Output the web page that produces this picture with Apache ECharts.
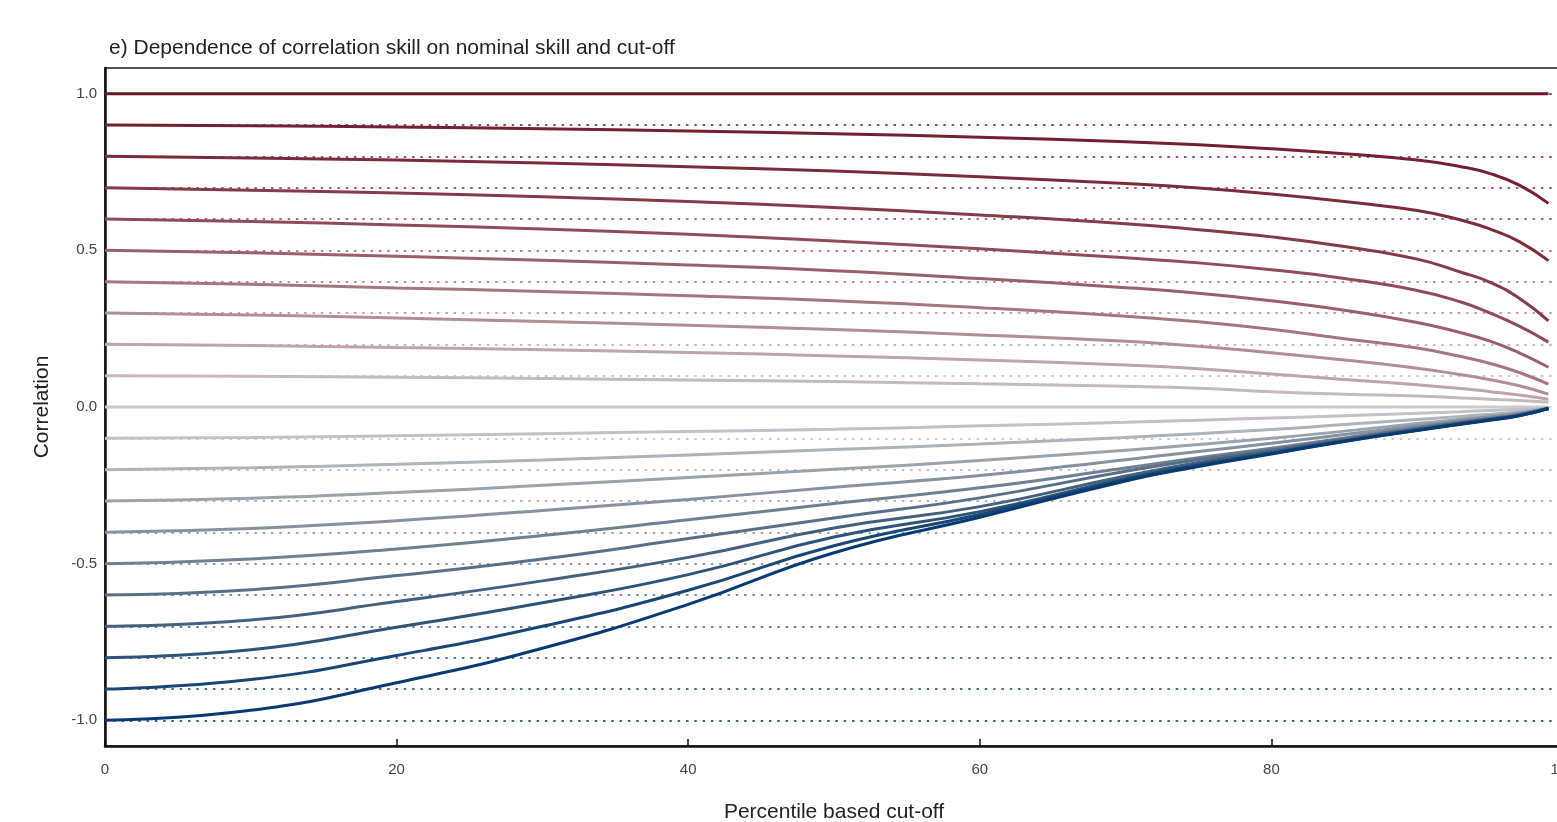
<!DOCTYPE html>
<html>
<head>
<meta charset="utf-8">
<script src="https://cdn.jsdelivr.net/npm/echarts@6/dist/echarts.min.js"></script>
<style>
html,body{margin:0;padding:0;background:#fff;}
#chart{width:1557px;height:822px;}
</style>
</head>
<body>
<div id="chart"></div>
<script>
// ---- data ----
const cutoffs = [0,10,20,30,40,50,60,70,75,80,85,90,93,95,97,99];
const nominal = [1.0,0.9,0.8,0.7,0.6,0.5,0.4,0.3,0.2,0.1,0.0,-0.1,-0.2,-0.3,-0.4,-0.5,-0.6,-0.7,-0.8,-0.9,-1.0];
const yTickValues = [-1.0,-0.5,0.0,0.5,1.0];

const r_p10 = [1,1,1,1,1,1,1,1,1,1,1,1,1,1,1,1];
const r_p09 = [0.9,0.898,0.894,0.888,0.881,0.872,0.861,0.847,0.837,0.824,0.808,0.788,0.767,0.745,0.708,0.65];
const r_p08 = [0.8,0.795,0.788,0.779,0.767,0.753,0.735,0.713,0.699,0.68,0.656,0.627,0.597,0.568,0.528,0.467];
const r_p07 = [0.7,0.692,0.683,0.671,0.656,0.637,0.613,0.585,0.566,0.543,0.512,0.472,0.43,0.398,0.347,0.275];
const r_p06 = [0.6,0.592,0.581,0.568,0.551,0.53,0.505,0.476,0.46,0.438,0.41,0.372,0.335,0.3,0.258,0.207];
const r_p05 = [0.5,0.492,0.481,0.468,0.453,0.435,0.41,0.381,0.363,0.339,0.309,0.27,0.237,0.21,0.173,0.127];
const r_p04 = [0.4,0.392,0.38,0.369,0.355,0.339,0.317,0.29,0.272,0.248,0.218,0.188,0.161,0.139,0.11,0.073];
const r_p03 = [0.3,0.294,0.284,0.273,0.261,0.247,0.23,0.21,0.194,0.173,0.15,0.124,0.103,0.087,0.068,0.041];
const r_p02 = [0.2,0.196,0.19,0.183,0.174,0.163,0.15,0.134,0.122,0.105,0.088,0.071,0.059,0.049,0.038,0.025];
const r_p01 = [0.1,0.098,0.095,0.091,0.086,0.081,0.074,0.066,0.06,0.049,0.041,0.035,0.029,0.025,0.021,0.015];
const r_00  = [0,0,0,0,0,0,0,0,0,0,0,0,0,0,0,0];
const r_n01 = [-0.1,-0.097,-0.092,-0.085,-0.078,-0.071,-0.06,-0.049,-0.042,-0.035,-0.028,-0.02,-0.015,-0.011,-0.007,-0.002];
const r_n02 = [-0.2,-0.194,-0.183,-0.169,-0.153,-0.136,-0.118,-0.097,-0.085,-0.072,-0.056,-0.04,-0.03,-0.023,-0.015,-0.003];
const r_n03 = [-0.3,-0.291,-0.273,-0.25,-0.225,-0.199,-0.171,-0.138,-0.12,-0.1,-0.077,-0.053,-0.039,-0.029,-0.019,-0.004];
const r_n04 = [-0.4,-0.388,-0.363,-0.33,-0.295,-0.256,-0.219,-0.168,-0.142,-0.116,-0.088,-0.06,-0.043,-0.032,-0.021,-0.004];
const r_n05 = [-0.5,-0.485,-0.453,-0.41,-0.36,-0.308,-0.258,-0.195,-0.162,-0.132,-0.099,-0.066,-0.048,-0.036,-0.024,-0.004];
const r_n06 = [-0.6,-0.583,-0.538,-0.485,-0.42,-0.354,-0.29,-0.205,-0.168,-0.137,-0.102,-0.068,-0.049,-0.037,-0.025,-0.004];
const r_n07 = [-0.7,-0.68,-0.621,-0.555,-0.48,-0.386,-0.318,-0.22,-0.177,-0.142,-0.106,-0.071,-0.051,-0.039,-0.026,-0.004];
const r_n08 = [-0.8,-0.775,-0.703,-0.625,-0.535,-0.415,-0.334,-0.228,-0.183,-0.146,-0.108,-0.073,-0.053,-0.04,-0.027,-0.005];
const r_n09 = [-0.9,-0.87,-0.793,-0.70,-0.585,-0.443,-0.343,-0.232,-0.187,-0.148,-0.109,-0.074,-0.054,-0.041,-0.027,-0.005];
const r_n10 = [-1,-0.968,-0.88,-0.77,-0.63,-0.465,-0.352,-0.236,-0.19,-0.15,-0.11,-0.075,-0.055,-0.042,-0.028,-0.005];

const curves = [r_p10,r_p09,r_p08,r_p07,r_p06,r_p05,r_p04,r_p03,r_p02,r_p01,r_00,
                r_n01,r_n02,r_n03,r_n04,r_n05,r_n06,r_n07,r_n08,r_n09,r_n10];

// ---- styling ----
const colors = ['#6e1423','#74202e','#7c2c39','#853a47','#8f4c58','#9a5f69','#a6767e','#b28d93','#bda5a9','#c6b9bb','#cccccc',
                '#bfc2c6','#adb3ba','#99a3ad','#84919f','#6e8092','#587087','#42617f','#2c5479','#184675','#073a74'];

const FONT = '"Liberation Sans", Arial, sans-serif';

const series = curves.map((vals, i) => ({
  type: 'line',
  name: nominal[i].toFixed(1),
  data: cutoffs.map((c, k) => [c, vals[k]]),
  showSymbol: false,
  smooth: 0.5,
  z: 3 + Math.round(Math.abs(nominal[i]) * 10),
  lineStyle: { color: colors[i], width: 3 },
  itemStyle: { color: colors[i] },
  markLine: {
    silent: true,
    symbol: ['none','none'],
    label: { show: false },
    lineStyle: { color: colors[i], type: [2.5, 5.8], width: 2, opacity: 0.8 },
    data: [{ yAxis: nominal[i] }]
  }
}));

const chart = echarts.init(document.getElementById('chart'), null, { renderer: 'canvas' });
chart.setOption({
  animation: false,
  backgroundColor: '#ffffff',
  title: {
    text: 'e) Dependence of correlation skill on nominal skill and cut-off',
    left: 104, top: 33,
    textStyle: { fontFamily: FONT, fontSize: 21, fontWeight: 'normal', color: '#222' }
  },
  grid: {
    left: 105, top: 68, width: 1458, height: 678,
    outerBoundsMode: 'none',
    containLabel: false,
    show: true, borderColor: '#555', borderWidth: 2, backgroundColor: 'transparent'
  },
  xAxis: {
    type: 'value', min: 0, max: 100, interval: 20,
    name: 'Percentile based cut-off', nameLocation: 'middle', nameGap: 56,
    nameTextStyle: { fontFamily: FONT, fontSize: 21, color: '#222' },
    axisLine: { show: true, onZero: false, lineStyle: { color: '#111', width: 2.5 } },
    axisTick: { show: true, inside: true, length: 7, lineStyle: { color: '#111', width: 1.5 } },
    axisLabel: { margin: 16, fontFamily: FONT, fontSize: 15, color: '#444' },
    splitLine: { show: false }
  },
  yAxis: {
    type: 'value', min: -1.082, max: 1.082,
    name: 'Correlation', nameLocation: 'middle', nameGap: 52, nameRotate: 90,
    nameTextStyle: { fontFamily: FONT, fontSize: 21, color: '#222' },
    axisLine: { show: true, onZero: false, lineStyle: { color: '#111', width: 2.5 } },
    axisTick: { show: false },
    axisLabel: {
      customValues: yTickValues, margin: 8, fontFamily: FONT, fontSize: 15, color: '#444',
      formatter: v => Number(v).toFixed(1)
    },
    splitLine: { show: false }
  },
  series: series
});
</script>
</body>
</html>
